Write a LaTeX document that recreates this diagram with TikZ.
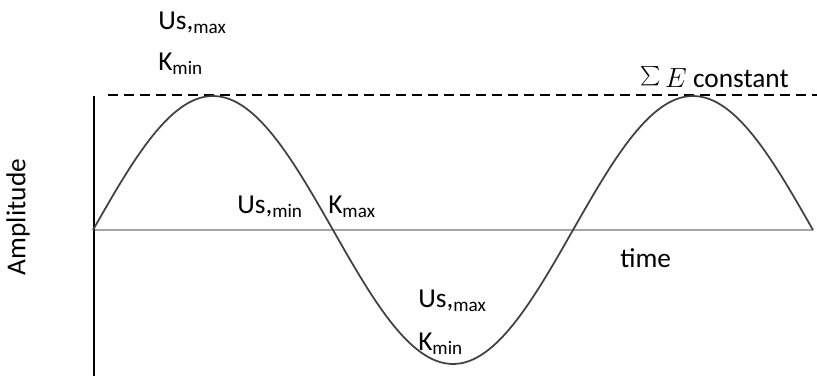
\documentclass[tikz,border=0pt]{standalone}
\usepackage{fontspec}
\setmainfont{Carlito}
\usepackage{graphicx}
\usepackage{tikz}
\usetikzlibrary{positioning,calc}
\tikzset{
  lbl/.style={anchor=base west, inner sep=0pt, font=\fontsize{20.5}{24}\selectfont},
  wave/.style={draw=black!75, line width=1.3pt, line join=round},
  haxis/.style={draw=black!35, line width=1.5pt},
  vaxis/.style={draw=black, line width=1.1pt},
  elevel/.style={draw=black, line width=1.1pt, dash pattern=on 7.5pt off 4.5pt}
}
\newcommand{\sub}[1]{\textsubscript{#1}}
\newcommand{\bigsum}{\raisebox{0.5pt}{\scalebox{1.45}{$\sum$}}}

\begin{document}
\begin{tikzpicture}[x=0.75pt, y=-0.75pt]
\useasboundingbox (0,0) rectangle (817,376);
% axes
\coordinate (org) at (93,230);
\coordinate (tend) at (813,230);
\coordinate (atop) at (94,96);
\coordinate (abot) at (94,376);
\coordinate (eleft) at (108,95);
\coordinate (eright) at (817,95);
\draw[haxis] (org) -- (tend);
\draw[vaxis] (atop) -- (abot);
\draw[elevel] (eleft) -- (eright);
% oscillation
\draw[wave] plot[domain=0:720, samples=181] ({93+\x}, {230-134*sin(0.75*\x)});
% labels
\node[lbl] (usmx1) at (158,29) {Us,\sub{max}};
\node[lbl] (kmn1) at (158,70) {K\sub{min}};
\node[lbl] (usmn) at (237,213) {Us,\sub{min}};
\node[lbl] (kmx) at (328,213) {K\sub{max}};
\node[lbl] (usmx2) at (418,307) {Us,\sub{max}};
\node[lbl] (kmn2) at (418,350) {K\sub{min}};
\node[lbl] (tm) at (620,267) {time};
\node[lbl] (etot) at (640,87) {\bigsum\,$E$ constant};
\node[lbl, anchor=center, rotate=90] (amp) at (18,217) {Amplitude};
\end{tikzpicture}
\end{document}
